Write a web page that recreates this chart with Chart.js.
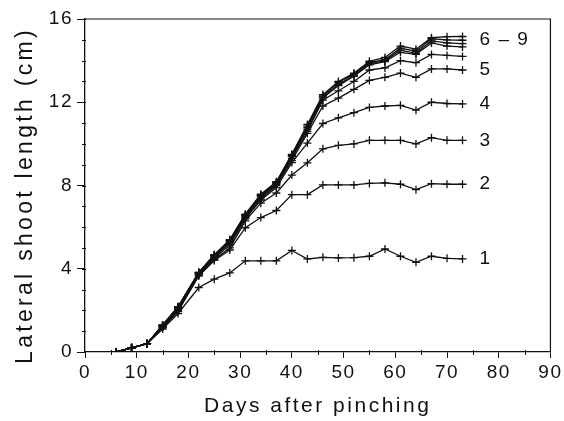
<!DOCTYPE html>
<html>
<head>
<meta charset="utf-8">
<script src="https://cdn.jsdelivr.net/npm/chart.js@4/dist/chart.umd.min.js"></script>
<style>
  html, body { margin: 0; padding: 0; background: #fff; }
  #wrap { width: 564px; height: 421px; }
</style>
</head>
<body>
<div id="wrap"><canvas id="chart"></canvas></div>
<script>
// days after pinching
var days = [6, 9, 12, 15, 18, 22, 25, 28, 31, 34, 37, 40, 43, 46, 49, 52, 55, 58, 61, 64, 67, 70, 73]

// lateral shoot length (cm), one array per line
var s1  = [0, 0.2, 0.4, 1.10, 1.85, 3.10, 3.50, 3.80, 4.38, 4.38, 4.38, 4.88, 4.47, 4.55, 4.52, 4.53, 4.60, 4.95, 4.60, 4.31, 4.60, 4.50, 4.47]
var s2  = [0, 0.2, 0.4, 1.15, 1.95, 3.65, 4.40, 4.90, 5.97, 6.46, 6.80, 7.56, 7.56, 8.03, 8.03, 8.03, 8.10, 8.13, 8.06, 7.80, 8.09, 8.06, 8.06]
var s3  = [0, 0.2, 0.4, 1.20, 2.00, 3.70, 4.45, 5.00, 6.30, 7.15, 7.64, 8.50, 9.09, 9.76, 9.93, 10.0, 10.17, 10.17, 10.17, 10.0, 10.30, 10.17, 10.17]
var s4  = [0, 0.2, 0.4, 1.20, 2.05, 3.72, 4.50, 5.15, 6.40, 7.30, 7.90, 9.10, 10.04, 10.98, 11.25, 11.50, 11.75, 11.82, 11.85, 11.62, 12.00, 11.94, 11.92]
var s5  = [0, 0.2, 0.4, 1.22, 2.10, 3.75, 4.55, 5.25, 6.45, 7.35, 8.00, 9.20, 10.50, 11.82, 12.20, 12.62, 13.05, 13.20, 13.40, 13.20, 13.60, 13.60, 13.55]
var s6  = [0, 0.2, 0.4, 1.25, 2.12, 3.78, 4.60, 5.30, 6.50, 7.45, 8.05, 9.30, 10.60, 12.10, 12.55, 13.00, 13.55, 13.65, 14.00, 13.90, 14.30, 14.25, 14.20]
var s7  = [0, 0.2, 0.4, 1.27, 2.15, 3.80, 4.62, 5.33, 6.55, 7.50, 8.10, 9.40, 10.70, 12.20, 12.80, 13.25, 13.80, 13.95, 14.40, 14.30, 14.85, 14.70, 14.66]
var s8  = [0, 0.2, 0.4, 1.28, 2.16, 3.81, 4.64, 5.35, 6.58, 7.52, 8.12, 9.44, 10.78, 12.25, 12.85, 13.30, 13.85, 14.00, 14.50, 14.35, 14.95, 14.85, 14.82]
var s9  = [0, 0.2, 0.4, 1.29, 2.17, 3.82, 4.66, 5.37, 6.60, 7.55, 8.15, 9.47, 10.85, 12.30, 12.95, 13.35, 13.90, 14.05, 14.60, 14.45, 15.05, 15.00, 14.98]
var s10 = [0, 0.2, 0.4, 1.30, 2.18, 3.83, 4.68, 5.40, 6.62, 7.58, 8.18, 9.50, 10.93, 12.37, 13.00, 13.40, 13.97, 14.15, 14.70, 14.55, 15.10, 15.15, 15.16]

var allSeries = [s1, s2, s3, s4, s5, s6, s7, s8, s9, s10]

// line labels at the right end, and which line each sits beside
var endLabels = ['1', '2', '3', '4', '5', '6 – 9']
var endLabelLine = [0, 1, 2, 3, 4, 8]
var labelDay = 76.3

var xTitle = 'Days after pinching'
var yTitle = 'Lateral shoot length (cm)'

var ink = '#111'
var fontName = "'Liberation Sans', Arial, sans-serif"

var datasets = []
for (var i = 0; i < allSeries.length; i++) {
    var pts = []
    for (var j = 0; j < days.length; j++) {
        pts.push({ x: days[j], y: allSeries[i][j] })
    }
    datasets.push({
        label: 'line ' + (i + 1),
        data: pts,
        borderColor: ink,
        borderWidth: 1.3,
        pointStyle: 'cross',
        pointRadius: 4,
        pointBorderWidth: 1.3,
        pointBorderColor: ink,
        backgroundColor: ink,
        tension: 0,
        fill: false
    })
}

var extras = {
    id: 'extras',
    beforeDraw: function (chart) {
        chart.ctx.letterSpacing = '1.5px'
    },
    afterDraw: function (chart) {
        var ctx = chart.ctx
        var a = chart.chartArea
        var xs = chart.scales.x
        var ys = chart.scales.y
        ctx.save()
        ctx.strokeStyle = ink
        ctx.lineWidth = 1.2
        // top and right edge of the frame
        ctx.beginPath()
        ctx.moveTo(a.left, a.top)
        ctx.lineTo(a.right, a.top)
        ctx.lineTo(a.right, a.bottom)
        ctx.stroke()
        // minor ticks
        ctx.lineWidth = 1
        ctx.beginPath()
        for (var v = 0; v <= 16; v++) {
            var py = Math.round(ys.getPixelForValue(v)) + 0.5
            ctx.moveTo(a.left - 3, py)
            ctx.lineTo(a.left + 1, py)
        }
        for (var d = 5; d <= 90; d += 10) {
            var px = Math.round(xs.getPixelForValue(d)) + 0.5
            ctx.moveTo(px, a.bottom - 2)
            ctx.lineTo(px, a.bottom + 3)
        }
        ctx.stroke()

        // line labels
        ctx.fillStyle = ink
        ctx.font = '19px ' + fontName
        ctx.letterSpacing = '1.5px'
        ctx.textAlign = 'left'
        ctx.textBaseline = 'middle'
        for (var k = 0; k < endLabels.length; k++) {
            var line = allSeries[endLabelLine[k]]
            ctx.fillText(endLabels[k], xs.getPixelForValue(labelDay), ys.getPixelForValue(line[line.length - 1]))
        }

        // axis titles
        ctx.textAlign = 'center'
        ctx.font = '21px ' + fontName
        ctx.letterSpacing = '2.5px'
        ctx.fillText(xTitle, (a.left + a.right) / 2, 406)
        ctx.translate(26, (a.top + a.bottom) / 2 + 10)
        ctx.rotate(-Math.PI / 2)
        ctx.font = '23px ' + fontName
        ctx.letterSpacing = '3.3px'
        ctx.fillText(yTitle, 0, 0)
        ctx.restore()
    }
}

var ctx = document.getElementById('chart').getContext('2d')
var myChart = new Chart(ctx, {
    type: 'line',
    data: { datasets: datasets },
    options: {
        responsive: true,
        maintainAspectRatio: false,
        animation: false,
        layout: { padding: { top: 19, right: 13, left: 0, bottom: 0 } },
        plugins: {
            legend: { display: false },
            tooltip: { enabled: false }
        },
        scales: {
            x: {
                type: 'linear',
                min: 0,
                max: 90,
                ticks: { stepSize: 10, color: ink, padding: 3, font: { size: 19, family: fontName } },
                grid: { drawOnChartArea: false, drawTicks: true, tickLength: 6, color: ink, lineWidth: 1 },
                border: { color: ink, width: 1.3 },
                afterFit: function (scale) { scale.height = 69 }
            },
            y: {
                min: 0,
                max: 16,
                ticks: { stepSize: 4, color: ink, padding: 4, font: { size: 19, family: fontName } },
                grid: { drawOnChartArea: false, drawTicks: true, tickLength: 8, color: ink, lineWidth: 1 },
                border: { color: ink, width: 1.3 },
                afterFit: function (scale) { scale.width = 85 }
            }
        }
    },
    plugins: [extras]
})
</script>
</body>
</html>
